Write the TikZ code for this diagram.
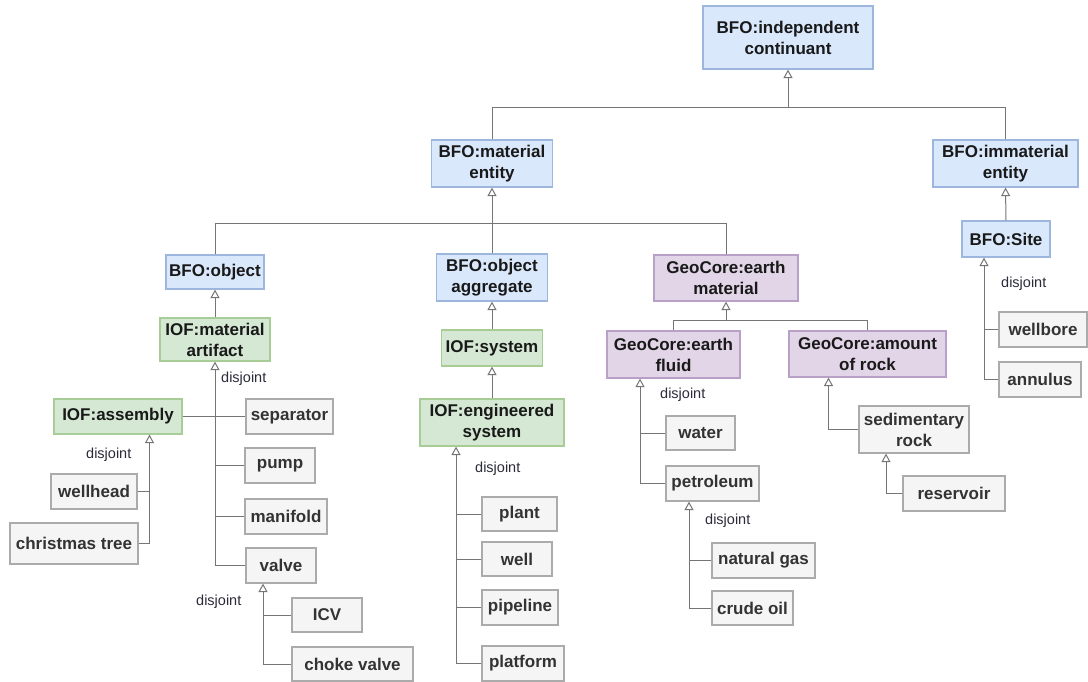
\documentclass[tikz,border=0pt]{standalone}
\usepackage{fontspec}
\setmainfont{Liberation Sans}
\usetikzlibrary{arrows.meta,calc}
\definecolor{bfill}{HTML}{DAE8FC}\definecolor{bline}{HTML}{9DB6DD}
\definecolor{gfill}{HTML}{D5E8D4}\definecolor{gline}{HTML}{A8CC96}
\definecolor{pfill}{HTML}{E1D5E7}\definecolor{pline}{HTML}{B9A0C6}
\definecolor{nfill}{HTML}{F5F5F5}\definecolor{nline}{HTML}{ABABAB}
\definecolor{conn}{HTML}{757575}
\definecolor{dtext}{HTML}{2B2B3A}
\tikzset{
  base/.style={rectangle, draw, line width=1.2pt, inner sep=0pt, align=center,
    font=\fontsize{17}{21}\selectfont\bfseries},
  bluebox/.style={base, fill=bfill, draw=bline, text=black!90},
  greenbox/.style={base, fill=gfill, draw=gline, text=black!90},
  purplebox/.style={base, fill=pfill, draw=pline, text=black!90},
  greybox/.style={base, fill=nfill, draw=nline, text=black!80},
  sz/.style n args={2}{minimum width=#1pt, minimum height=#2pt},
  wire/.style={draw=conn, line width=1pt},
  isa/.style={wire, -{Triangle[open, length=8.5pt, width=9pt, fill=white]}},
  disj/.style={anchor=west, inner sep=0pt, text=dtext, font=\fontsize{14.5}{16}\selectfont}
}
\begin{document}
\begin{tikzpicture}[x=1pt,y=-1pt]
\useasboundingbox[fill=white] (0,0) rectangle (1088,682);
% nodes
\node[bluebox, sz={170}{63}] (ic) at (788,37.5) {BFO:independent\\continuant};
\node[bluebox, sz={121}{47}] (me) at (492,163.5) {BFO:material\\entity};
\node[bluebox, sz={145}{47}] (ie) at (1005.5,163.5) {BFO:immaterial\\entity};
\node[bluebox, sz={98}{34}] (obj) at (215,272) {BFO:object};
\node[bluebox, sz={111}{47}] (oa) at (492,277.5) {BFO:object\\aggregate};
\node[purplebox, sz={144}{46}] (em) at (726,278) {GeoCore:earth\\material};
\node[bluebox, sz={88}{36}] (site) at (1006,239) {BFO:Site};
\node[greenbox, sz={110}{43}] (ma) at (215,339.5) {IOF:material\\artifact};
\node[greenbox, sz={101}{36}] (sys) at (492,348) {IOF:system};
\node[greenbox, sz={144}{47}] (es) at (492,422.5) {IOF:engineered\\system};
\node[purplebox, sz={133}{47}] (ef) at (673.5,354.5) {GeoCore:earth\\fluid};
\node[purplebox, sz={157}{46}] (ar) at (867.5,354) {GeoCore:amount\\of rock};
\node[greenbox, sz={128}{35}] (asm) at (118,416.5) {IOF:assembly};
\node[greybox, sz={87}{35}] (sep) at (289.5,416.5) {separator};
\node[greybox, sz={70}{35}] (pump) at (280,465.5) {pump};
\node[greybox, sz={82}{35}] (man) at (286,516.5) {manifold};
\node[greybox, sz={70}{35}] (valve) at (281,565.5) {valve};
\node[greybox, sz={86}{35}] (wh) at (94,491.5) {wellhead};
\node[greybox, sz={128}{41}] (ct) at (74,543.5) {christmas tree};
\node[greybox, sz={70}{34}] (icv) at (327,615) {ICV};
\node[greybox, sz={121}{34}] (choke) at (352.5,664) {choke valve};
\node[greybox, sz={75}{34}] (plant) at (519.5,514) {plant};
\node[greybox, sz={70}{34}] (well) at (517,559) {well};
\node[greybox, sz={76}{35}] (pipe) at (520,607.5) {pipeline};
\node[greybox, sz={82}{35}] (plat) at (523,663.5) {platform};
\node[greybox, sz={69}{34}] (water) at (700.5,433) {water};
\node[greybox, sz={93}{35}] (petr) at (712.5,483.5) {petroleum};
\node[greybox, sz={103}{35}] (ng) at (763.5,560.5) {natural gas};
\node[greybox, sz={81}{34}] (co) at (752.5,608) {crude oil};
\node[greybox, sz={110}{47}] (sed) at (914,429.5) {sedimentary\\rock};
\node[greybox, sz={102}{35}] (res) at (954,493.5) {reservoir};
\node[greybox, sz={88}{35}] (wb) at (1043,329.5) {wellbore};
\node[greybox, sz={82}{35}] (ann) at (1040,379.5) {annulus};
% disjoint labels
\node[disj] (d1) at (221,379) {disjoint};
\node[disj] (d2) at (86,455) {disjoint};
\node[disj] (d3) at (196,602) {disjoint};
\node[disj] (d4) at (475,469) {disjoint};
\node[disj] (d5) at (660,395) {disjoint};
\node[disj] (d6) at (705,521) {disjoint};
\node[disj] (d7) at (1001,284) {disjoint};
% bus points
\coordinate (bus1) at (788,107.5);
\coordinate (bus2) at (492,223.3);
\coordinate (bus3) at (726,320);
\coordinate (jma) at ([xshift=0pt]ma.south);
\coordinate (jasm) at ([xshift=31.5pt]asm.south);
\coordinate (jvalve) at ([xshift=-18pt]valve.south);
\coordinate (jes) at ([xshift=-36pt]es.south);
\coordinate (jef) at ([xshift=-33.5pt]ef.south);
\coordinate (jpetr) at ([xshift=-23.5pt]petr.south);
\coordinate (jar) at ([xshift=-39pt]ar.south);
\coordinate (jsed) at ([xshift=-28pt]sed.south);
\coordinate (jsite) at ([xshift=-22pt]site.south);
% top level
\draw[wire] (me.north) |- (bus1);
\draw[wire] (ie.north) |- (bus1);
\draw[isa] (bus1) -- (ic.south);
\draw[wire] (obj.north) |- (bus2);
\draw[wire] (em.north) |- (bus2);
\draw[wire] (oa.north) -- (bus2);
\draw[isa] (bus2) -- (me.south);
\draw[isa] (site.north) -- (ie.south);
\draw[isa] (ma.north) -- (obj.south);
\draw[isa] (sys.north) -- (oa.south);
\draw[isa] (es.north) -- (sys.south);
\draw[wire] (ef.north) |- (bus3);
\draw[wire] (ar.north) |- (bus3);
\draw[isa] (bus3) -- (em.south);
% material artifact children
\draw[wire] (asm.east) -- (sep.west);
\draw[wire] (pump.west) -- (pump.west -| jma);
\draw[wire] (man.west) -- (man.west -| jma);
\draw[isa] (valve.west) -| (jma);
% assembly children
\draw[wire] (wh.east) -- (wh.east -| jasm);
\draw[isa] (ct.east) -| (jasm);
% valve children
\draw[wire] (icv.west) -- (icv.west -| jvalve);
\draw[isa] (choke.west) -| (jvalve);
% engineered system children
\draw[wire] (plant.west) -- (plant.west -| jes);
\draw[wire] (well.west) -- (well.west -| jes);
\draw[wire] (pipe.west) -- (pipe.west -| jes);
\draw[isa] (plat.west) -| (jes);
% earth fluid children
\draw[wire] (water.west) -- (water.west -| jef);
\draw[isa] (petr.west) -| (jef);
\draw[wire] (ng.west) -- (ng.west -| jpetr);
\draw[isa] (co.west) -| (jpetr);
% rock
\draw[isa] (sed.west) -| (jar);
\draw[isa] (res.west) -| (jsed);
% site
\draw[wire] (wb.west) -- (wb.west -| jsite);
\draw[isa] (ann.west) -| (jsite);
\end{tikzpicture}
\end{document}
